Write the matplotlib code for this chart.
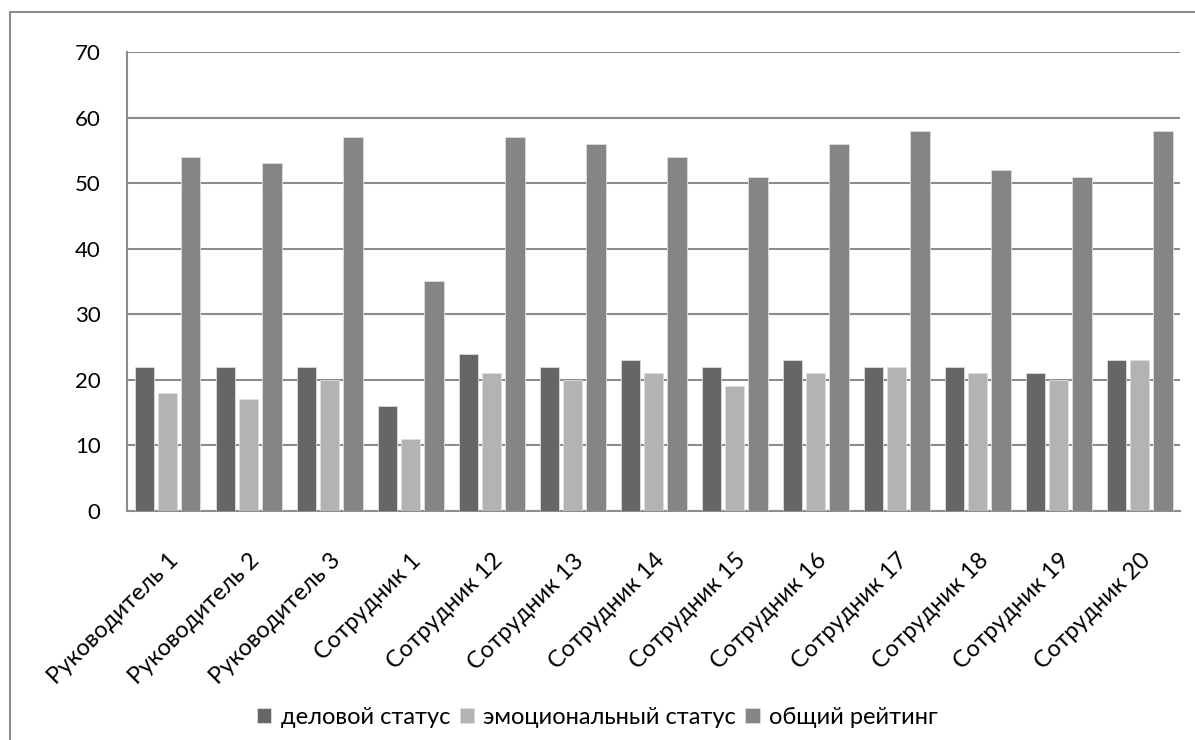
import numpy as np
import matplotlib.pyplot as plt
from matplotlib.patches import Rectangle

# staff ratings: business status, emotional status, overall rating
names = ['Руководитель 1', 'Руководитель 2', 'Руководитель 3', 'Сотрудник 1',
         'Сотрудник 12', 'Сотрудник 13', 'Сотрудник 14', 'Сотрудник 15',
         'Сотрудник 16', 'Сотрудник 17', 'Сотрудник 18', 'Сотрудник 19',
         'Сотрудник 20']
business = [22, 22, 22, 16, 24, 22, 23, 22, 23, 22, 22, 21, 23]
emotional = [18, 17, 20, 11, 21, 20, 21, 19, 21, 22, 21, 20, 23]
overall = [54, 53, 57, 35, 57, 56, 54, 51, 56, 58, 52, 51, 58]

series = [
    ('деловой статус', business, '#666666'),
    ('эмоциональный статус', emotional, '#b3b3b3'),
    ('общий рейтинг', overall, '#858585'),
]

plt.rcParams['font.family'] = ['Lato', 'DejaVu Sans']

fig = plt.figure(figsize=(11.95, 7.4), dpi=100)
ax = fig.add_axes([0.1063, 0.3095, 0.8812, 0.6203])

x = np.arange(len(names))
step = 0.287
width = 0.24
for i, (label, vals, color) in enumerate(series):
    ax.bar(x + (i - 1) * step, vals, width, color=color, label=label,
           edgecolor='#dddddd', linewidth=0.6, zorder=3)

ax.set_xlim(-0.5, len(names) - 0.5)
ax.set_ylim(0, 70)
ax.set_yticks(range(0, 71, 10))
ax.yaxis.grid(True, color='#8c8c8c', linewidth=1.5, zorder=0)
ax.set_axisbelow(True)

for side in ['top', 'right']:
    ax.spines[side].set_visible(False)
for side in ['left', 'bottom']:
    ax.spines[side].set_color('#8c8c8c')
    ax.spines[side].set_linewidth(1.5)

ax.set_xticks(x)
ax.set_xticklabels(names, rotation=45, ha='right', rotation_mode='anchor',
                   fontsize=17)
ax.tick_params(axis='x', length=0, pad=28)
ax.tick_params(axis='y', length=0, pad=19, labelsize=16)

fig.legend(loc='center', bbox_to_anchor=(0.5, 0.03), ncol=3, frameon=False,
           fontsize=17, handlelength=0.6, handleheight=0.6, handletextpad=0.4,
           columnspacing=0.4)

# outer chart frame
fig.add_artist(Rectangle((10 / 1195, -0.1), 1.2, (740 - 12) / 740 + 0.1,
                         transform=fig.transFigure, fill=False,
                         edgecolor='#8c8c8c', linewidth=1.5))

fig.savefig('out.png', dpi=100)
